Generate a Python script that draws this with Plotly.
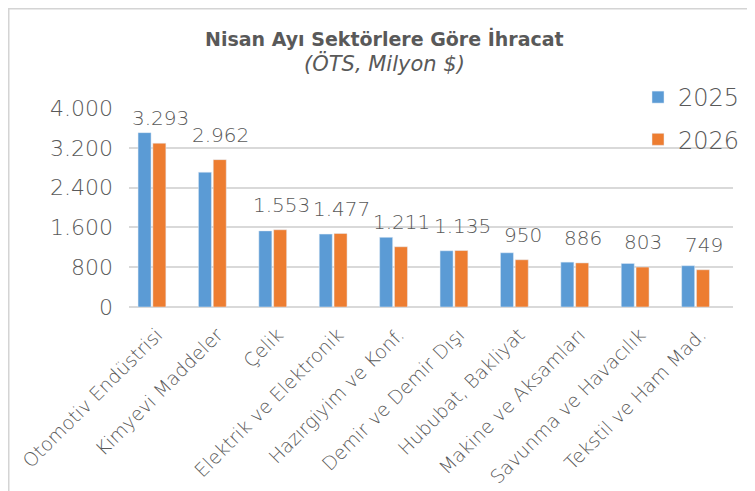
import plotly.graph_objects as go

categories = ["Otomotiv Endüstrisi", "Kimyevi Maddeler", "Çelik", "Elektrik ve Elektronik",
              "Hazırgiyim ve Konf.", "Demir ve Demir Dışı", "Hububat, Bakliyat",
              "Makine ve Aksamları", "Savunma ve Havacılık", "Tekstil ve Ham Mad."]
values_2025 = [3505, 2710, 1530, 1465, 1400, 1130, 1090, 902, 875, 830]
values_2026 = [3293, 2962, 1553, 1477, 1211, 1135, 950, 886, 803, 749]
y_ticks = [0, 800, 1600, 2400, 3200, 4000]

FONT = "DejaVu Sans"
GRAY = "#595959"

# page body has an 8px margin; figure is sized to fit the window
W, H = 747, 483
L, T, PW, PH = 121, 100, 604, 199

fig = go.Figure()
fig.add_trace(go.Bar(name="2025", x=categories, y=values_2025, marker_color="#5B9BD5",
                     legendgroup="a"))
fig.add_trace(go.Bar(name="2026", x=categories, y=values_2026, marker_color="#ED7D31",
                     legendgroup="b"))

def fmt(v):
    return f"{v:,}".replace(",", ".")

for c, v in zip(categories, values_2026):
    fig.add_annotation(x=c, y=v, text=fmt(v), showarrow=False, xshift=8.3, yshift=25,
                       yanchor="middle", font=dict(family=FONT, size=20, color=GRAY, weight=300))

fig.add_annotation(xref="paper", yref="paper", x=(376 - L) / PW, y=(T + PH - 30) / PH,
                   text="<b>Nisan Ayı Sektörlere Göre İhracat</b>",
                   showarrow=False, xanchor="center", yanchor="middle",
                   font=dict(family=FONT, size=19, color=GRAY))
fig.add_annotation(xref="paper", yref="paper", x=(376 - L) / PW, y=(T + PH - 55) / PH,
                   text="<i>(ÖTS, Milyon $)</i>",
                   showarrow=False, xanchor="center", yanchor="middle",
                   font=dict(family=FONT, size=21, color=GRAY, weight=300))

fig.add_shape(type="rect", xref="paper", yref="paper",
              x0=(0.75 - L) / PW, x1=(W + 10 - L) / PW,
              y0=(T + PH - (H + 10)) / PH, y1=(T + PH - 0.75) / PH,
              line=dict(color="#D4D4D4", width=1.5), fillcolor="rgba(0,0,0,0)", layer="below")

fig.update_layout(
    width=W, height=H,
    margin=dict(l=L, r=W - L - PW, t=T, b=H - T - PH, autoexpand=False),
    paper_bgcolor="white", plot_bgcolor="white",
    barmode="group", bargap=0.51, bargroupgap=0.12,
    separators=",.",
    font=dict(family=FONT, color=GRAY),
    showlegend=True,
    legend=dict(xref="container", yref="container", x=630 / W, xanchor="left",
                y=1 - 67 / H, yanchor="top",
                font=dict(family=FONT, size=24, color=GRAY, weight=300),
                traceorder="grouped", tracegroupgap=8, bgcolor="rgba(0,0,0,0)"),
)
fig.update_xaxes(range=[-0.38, 9.62], tickangle=-45, showgrid=False, showline=False,
                 automargin=False, ticklabelstandoff=12, ticklabelshift=5,
                 tickfont=dict(family=FONT, size=19, color=GRAY, weight=300), ticks="")
fig.update_yaxes(range=[0, 4000], tickvals=y_ticks, tickformat=",", showgrid=True,
                 automargin=False,
                 gridcolor="#D9D9D9", gridwidth=1.5, zeroline=True, zerolinecolor="#D9D9D9",
                 zerolinewidth=1.5, ticklabelstandoff=15,
                 tickfont=dict(family=FONT, size=22, color=GRAY, weight=300))

fig.write_html("out.html")
